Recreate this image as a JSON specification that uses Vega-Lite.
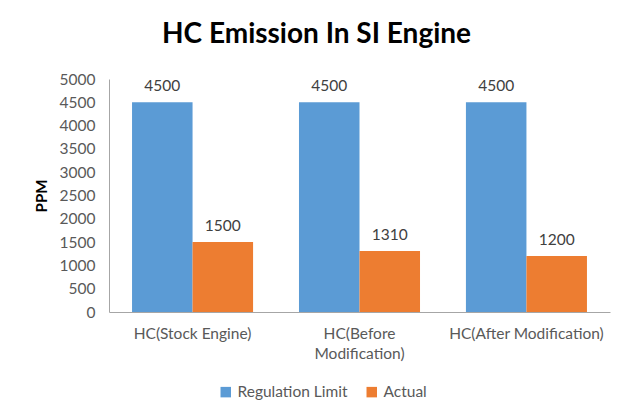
{
  "$schema": "https://vega.github.io/schema/vega-lite/v6.json",
  "width": 501,
  "height": 233,
  "autosize": "none",
  "padding": {"left": 109, "top": 79, "right": 22, "bottom": 102},
  "background": "white",
  "title": {
    "text": "HC Emission In SI Engine",
    "font": "Lato",
    "fontSize": 28,
    "fontWeight": "bold",
    "color": "#000000",
    "anchor": "middle",
    "dx": -43,
    "offset": 23
  },
  "data": {
    "values": [
      {"category": "HC(Stock Engine)", "series": "Regulation Limit", "value": 4500},
      {"category": "HC(Stock Engine)", "series": "Actual", "value": 1500},
      {"category": "HC(Before Modification)", "series": "Regulation Limit", "value": 4500},
      {"category": "HC(Before Modification)", "series": "Actual", "value": 1310},
      {"category": "HC(After Modification)", "series": "Regulation Limit", "value": 4500},
      {"category": "HC(After Modification)", "series": "Actual", "value": 1200}
    ]
  },
  "encoding": {
    "x": {
      "field": "category",
      "type": "nominal",
      "sort": null,
      "scale": {"paddingInner": 0.275, "paddingOuter": 0.138},
      "axis": {
        "title": null,
        "labelAngle": 0,
        "ticks": false,
        "domainColor": "#A6A6A6",
        "labelColor": "#595959",
        "labelFont": "Lato",
        "labelFontSize": 15.5,
        "labelPadding": 14,
        "labelLineHeight": 20,
        "labelLimit": 300,
        "labelExpr": "datum.value == 'HC(Before Modification)' ? ['HC(Before', 'Modification)'] : datum.value"
      }
    },
    "xOffset": {"field": "series", "type": "nominal", "sort": ["Regulation Limit", "Actual"], "scale": {"paddingInner": 0, "paddingOuter": 0}},
    "y": {
      "field": "value",
      "type": "quantitative",
      "scale": {"domain": [0, 5000]},
      "axis": {
        "title": "PPM",
        "titleFont": "Lato",
        "titleFontSize": 15,
        "titleFontWeight": "bold",
        "titleColor": "#000000",
        "titlePadding": 10,
        "format": "d",
        "values": [0, 500, 1000, 1500, 2000, 2500, 3000, 3500, 4000, 4500, 5000],
        "grid": false,
        "ticks": false,
        "domainColor": "#A6A6A6",
        "labelColor": "#595959",
        "labelFont": "Lato",
        "labelFontSize": 15.5,
        "labelPadding": 14
      }
    }
  },
  "layer": [
    {
      "mark": {"type": "bar"},
      "encoding": {
        "color": {
          "field": "series",
          "type": "nominal",
          "sort": ["Regulation Limit", "Actual"],
          "scale": {"domain": ["Regulation Limit", "Actual"], "range": ["#5B9BD5", "#ED7D31"]},
          "legend": {
            "title": null,
            "orient": "none",
            "direction": "horizontal",
            "legendX": 109,
            "legendY": 305,
            "symbolType": "square",
            "symbolSize": 110,
            "symbolStrokeWidth": 0,
            "labelFont": "Lato",
            "labelFontSize": 15.5,
            "labelColor": "#595959",
            "columnPadding": 16
          }
        }
      }
    },
    {
      "mark": {"type": "text", "baseline": "bottom", "dy": -8, "font": "Lato", "fontSize": 15.5, "color": "#404040"},
      "encoding": {
        "text": {"field": "value", "type": "quantitative", "format": "d"}
      }
    }
  ],
  "config": {"view": {"stroke": null}}
}
